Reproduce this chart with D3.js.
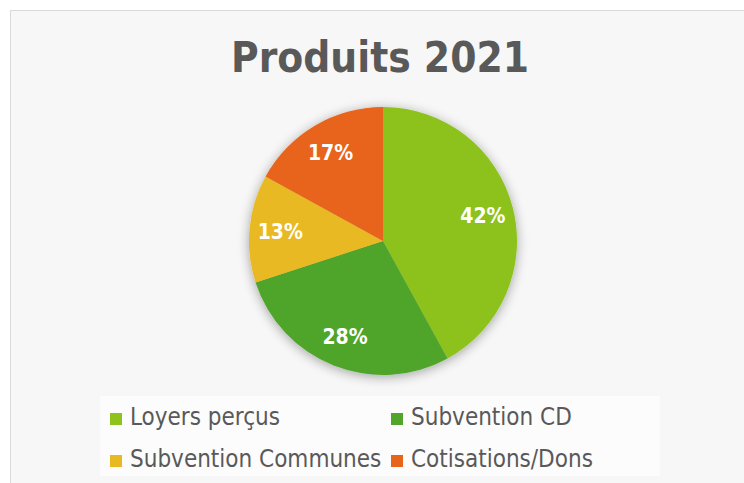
<!DOCTYPE html>
<html>
<head>
<meta charset="utf-8">
<script src="https://cdn.jsdelivr.net/npm/d3@7"></script>
<style>
  body { margin: 0; background: #fff; }
  text { font-family: "DejaVu Sans Condensed", "DejaVu Sans", sans-serif; }
</style>
</head>
<body>
<script>
const categories = ["Loyers perçus", "Subvention CD", "Subvention Communes", "Cotisations/Dons"];
const values = [42, 28, 13, 17];
const colors = ["#8dc21f", "#50a52a", "#e8b923", "#e8641a"];
const title = "Produits 2021";

const w = 744, h = 483;
const cx = 383, cy = 241, r = 134;

const svg = d3.select("body").append("svg")
  .attr("width", w)
  .attr("height", h);

const defs = svg.append("defs");
const f = defs.append("filter").attr("id", "shadow")
  .attr("x", "-20%").attr("y", "-20%").attr("width", "140%").attr("height", "140%");
f.append("feGaussianBlur").attr("in", "SourceAlpha").attr("stdDeviation", 6);
f.append("feOffset").attr("dx", 0).attr("dy", 2).attr("result", "b");
f.append("feComponentTransfer").append("feFuncA").attr("type", "linear").attr("slope", 0.35);
const m = f.append("feMerge");
m.append("feMergeNode");
m.append("feMergeNode").attr("in", "SourceGraphic");

// chart area
svg.append("rect")
  .attr("x", 10.5).attr("y", 10.5)
  .attr("width", w).attr("height", h)
  .attr("fill", "#f7f7f7")
  .attr("stroke", "#d9d9d9");

svg.append("text")
  .attr("x", 380).attr("y", 72)
  .attr("text-anchor", "middle")
  .attr("font-size", 42)
  .attr("font-weight", "bold")
  .attr("fill", "#595959")
  .text(title);

const pie = d3.pie().sort(null);
const arcs = pie(values);
const arc = d3.arc().innerRadius(0).outerRadius(r);
const labelArc = d3.arc().innerRadius(r * 0.77).outerRadius(r * 0.77);

const g = svg.append("g").attr("transform", `translate(${cx},${cy})`);

g.append("g").attr("filter", "url(#shadow)")
  .selectAll("path")
  .data(arcs)
  .enter()
  .append("path")
  .attr("d", arc)
  .attr("fill", (d, i) => colors[i]);

g.selectAll("text.lbl")
  .data(arcs)
  .enter()
  .append("text")
  .attr("class", "lbl")
  .attr("x", d => labelArc.centroid(d)[0])
  .attr("y", d => labelArc.centroid(d)[1])
  .attr("dy", "0.35em")
  .attr("text-anchor", "middle")
  .attr("font-size", 21)
  .attr("font-weight", "bold")
  .attr("fill", "#fff")
  .text(d => d.data + "%");

// legend
const lg = svg.append("g");
lg.append("rect")
  .attr("x", 100).attr("y", 396)
  .attr("width", 560).attr("height", 80)
  .attr("fill", "#fcfcfc");

const legendX = d3.scaleOrdinal().domain([0, 1]).range([110, 391]);
const legendY = d3.scaleOrdinal().domain([0, 1]).range([425, 467]);

const items = lg.selectAll("g.item")
  .data(categories)
  .enter()
  .append("g")
  .attr("class", "item")
  .attr("transform", (d, i) => `translate(${legendX(i % 2)},${legendY(Math.floor(i / 2))})`);

items.append("rect")
  .attr("x", 0).attr("y", -12)
  .attr("width", 12).attr("height", 12)
  .attr("fill", (d, i) => colors[i]);

items.append("text")
  .attr("x", 20).attr("y", 0)
  .attr("font-size", 24)
  .attr("fill", "#595959")
  .text(d => d);
</script>
</body>
</html>
